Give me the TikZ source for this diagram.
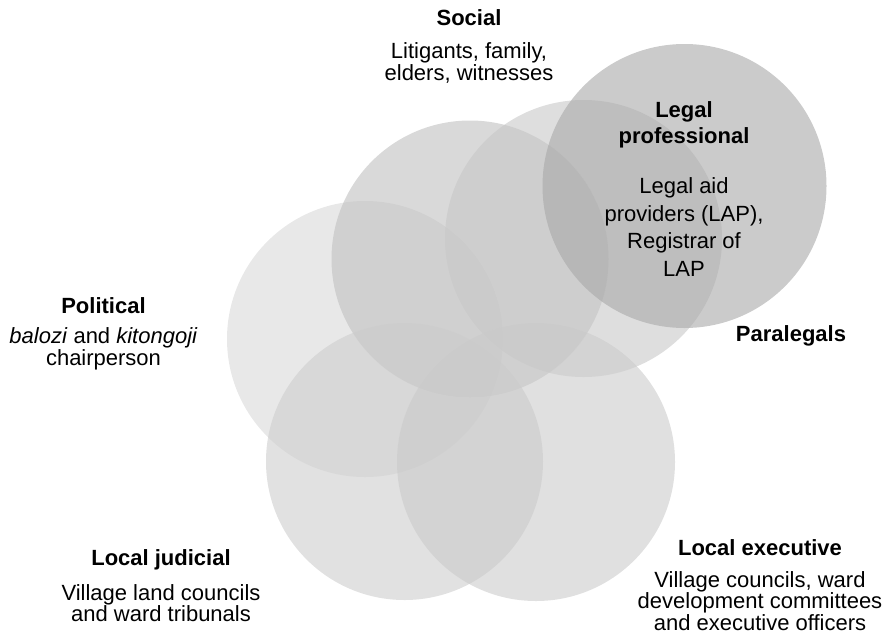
\documentclass[tikz,border=0pt]{standalone}
\usepackage{fontspec}
\setmainfont{Liberation Sans}
\usetikzlibrary{positioning}

\definecolor{polgray}{gray}{0.851}
\definecolor{socgray}{gray}{0.753}
\definecolor{paragray}{gray}{0.784}
\definecolor{legalgray}{gray}{0.659}
\definecolor{judgray}{gray}{0.804}
\definecolor{execgray}{gray}{0.796}

\begin{document}
\begin{tikzpicture}[x=1pt,y=-1pt,
    circ/.style={circle,inner sep=0pt,draw=none,fill opacity=0.6},
    lbl/.style={align=center,anchor=base,inner sep=0pt,font=\fontsize{22}{21.5}\selectfont}]
    \useasboundingbox (0,0) rectangle (891,638);

    % circles
    \node[circ,fill=polgray,  minimum size=276pt] (political) at (365,339)     {};
    \node[circ,fill=socgray,  minimum size=277pt] (social)    at (470,259)     {};
    \node[circ,fill=paragray, minimum size=277pt] (paralegal) at (583.5,238.5) {};
    \node[circ,fill=legalgray,minimum size=284pt] (legal)     at (684.5,186)   {};
    \node[circ,fill=judgray,  minimum size=277pt] (judicial)  at (404.5,461.5) {};
    \node[circ,fill=execgray, minimum size=278pt] (executive) at (536,462)     {};

    % labels (anchored at the last line)
    \node[lbl] (social text)    at (469,80)    {\textbf{Social}\\[12pt]Litigants, family,\\elders, witnesses};
    \node[lbl] (political text) at (103.5,365) {\textbf{Political}\\[9pt]\textit{balozi} and \textit{kitongoji}\\chairperson};
    \node[lbl,font=\fontsize{22}{27.5}\selectfont] (legal text) at (684,276)
        {\textbf{Legal}\\[-1.5pt]\textbf{professional}\\[22.5pt]Legal aid\\providers (LAP),\\Registrar of\\LAP};
    \node[lbl] (paralegal text) at (791,341.5) {\textbf{Paralegals}};
    \node[lbl] (judicial text)  at (161,621.5) {\textbf{Local judicial}\\[13pt]Village land councils\\and ward tribunals};
    \node[lbl] (executive text) at (760,630)   {\textbf{Local executive}\\[10pt]Village councils, ward\\development committees\\and executive officers};
\end{tikzpicture}
\end{document}
